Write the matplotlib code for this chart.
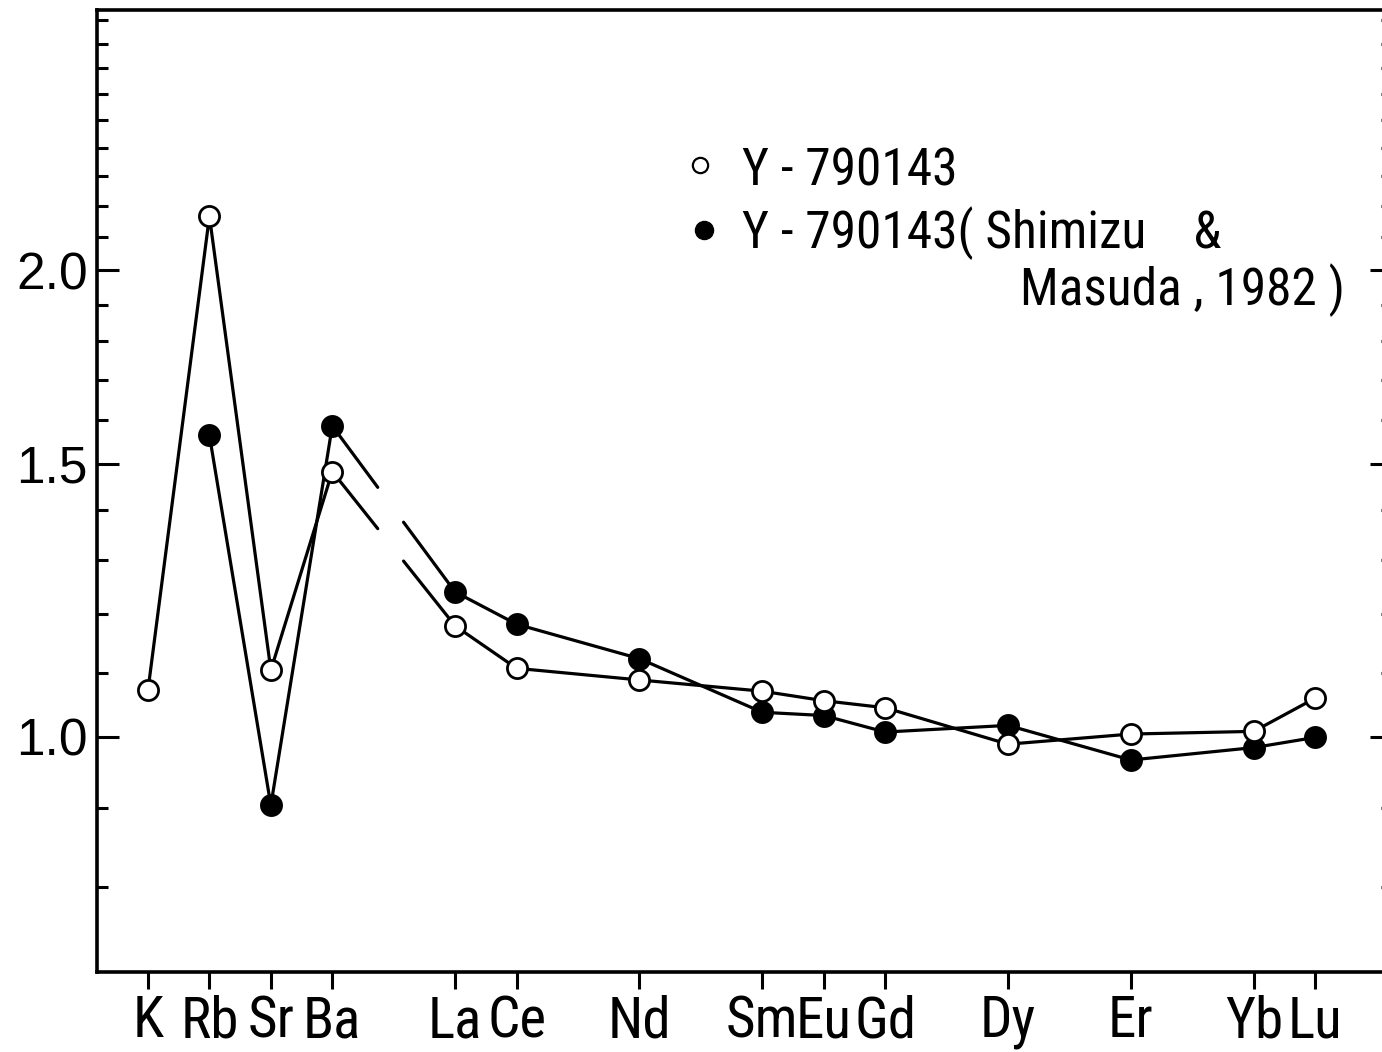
import matplotlib
matplotlib.use("Agg")

import matplotlib.pyplot as plt
import numpy as np
from matplotlib import font_manager
from matplotlib.font_manager import FontProperties
from matplotlib.ticker import FixedLocator, NullFormatter

# Normalised abundances (sample / reference), element order as plotted
elements = ["K", "Rb", "Sr", "Ba", "La", "Ce", "Nd", "Sm", "Eu", "Gd", "Dy", "Er", "Yb", "Lu"]
positions = [52, 53, 54, 55, 57, 58, 60, 62, 63, 64, 66, 68, 70, 71]

this_work = [1.072, 2.167, 1.104, 1.483, 1.179, 1.107, 1.088,
             1.070, 1.055, 1.044, 0.989, 1.004, 1.008, 1.059]
shimizu_masuda = [np.nan, 1.565, 0.903, 1.587, 1.240, 1.182, 1.123,
                  1.037, 1.032, 1.007, 1.017, 0.966, 0.984, 0.999]

major_ticks = [1.0, 1.5, 2.0]
major_labels = ["1.0", "1.5", "2.0"]

LW = 2.3


def condensed_font():
    """Return a narrow sans-serif face if one is installed, else None."""
    wanted = ("DejaVu Sans Condensed", "Liberation Sans Narrow", "Roboto Condensed",
              "Open Sans Condensed", "Noto Sans Condensed", "Noto Sans")
    squeezed = ("condensed", "semi-condensed", "extra-condensed")
    found = {}
    for f in font_manager.fontManager.ttflist:
        if f.style != "normal" or f.weight not in (400, "normal", "regular", "book"):
            continue
        narrow = ("Condensed" in f.name or "Narrow" in f.name
                  or str(f.stretch) in squeezed)
        if not narrow:
            continue
        for name in wanted:
            if f.name == name or f.name.startswith(name):
                found.setdefault(name, f.fname)
    for name in wanted:
        if name in found:
            return FontProperties(fname=found[name])
    return None


narrow_prop = condensed_font()
if narrow_prop is None:
    narrow_prop = FontProperties(family="Liberation Sans")
    label_size, legend_size, label_pad = 31, 32, 6
else:
    label_size, legend_size, label_pad = 41, 37, 4


def draw_series(ax, x, y, face, zorder):
    x = np.asarray(x, dtype=float)
    y = np.asarray(y, dtype=float)
    split = 4  # alkali/alkaline-earth group | REE group

    for sl in (slice(0, split), slice(split, None)):
        ax.plot(x[sl], y[sl], color="black", lw=LW, zorder=2)

    # Ba -> La link, drawn with a break in the middle
    xb, xl = x[split - 1], x[split]
    lb, ll = np.log10(y[split - 1]), np.log10(y[split])
    for t0, t1 in ((0.0, 0.37), (0.58, 1.0)):
        xs = [xb + t0 * (xl - xb), xb + t1 * (xl - xb)]
        ys = [10 ** (lb + t0 * (ll - lb)), 10 ** (lb + t1 * (ll - lb))]
        ax.plot(xs, ys, color="black", lw=LW, solid_capstyle="round", zorder=2)

    ax.plot(x, y, ls="none", marker="o", ms=14.5, mew=2.0,
            mfc=face, mec="black", zorder=zorder)


fig = plt.figure(figsize=(13.82, 10.52), dpi=100)
# right spine sits just past the figure edge
ax = fig.add_axes([97 / 1382, 80 / 1052, 1295 / 1382, 962 / 1052])

draw_series(ax, positions, shimizu_masuda, "black", 3)
draw_series(ax, positions, this_work, "white", 4)

ax.set_yscale("log")
ax.set_ylim(0.705, 2.944)
ax.set_xlim(51.17, 72.25)

ax.yaxis.set_major_locator(FixedLocator(major_ticks))
ax.yaxis.set_minor_locator(FixedLocator([v / 10 for v in range(8, 30) if v not in (10, 15, 20)]))
ax.yaxis.set_minor_formatter(NullFormatter())
ax.set_yticklabels(major_labels, fontsize=37, family="Liberation Sans")

ax.set_xticks(positions)
ax.set_xticklabels(elements)
for lab in ax.get_xticklabels():
    lab.set_fontproperties(narrow_prop)
    lab.set_fontsize(label_size)

ax.tick_params(axis="y", which="major", direction="in", length=16, width=2.2,
               right=True, pad=6.5)
ax.tick_params(axis="y", which="minor", direction="in", length=8, width=2.2, right=True)
ax.tick_params(axis="x", which="major", direction="out", length=12, width=2.2,
               pad=label_pad)

for side in ("left", "bottom", "top", "right"):
    ax.spines[side].set_linewidth(2.6)

# legend, written out by hand
ax.plot([0.4656], [0.8389], ls="none", marker="o", ms=11, mew=1.6, mfc="white",
        mec="black", transform=ax.transAxes, clip_on=False)
ax.plot([0.4687], [0.7713], ls="none", marker="o", ms=13, mew=1.0, mfc="black",
        mec="black", transform=ax.transAxes, clip_on=False)
legend_lines = [
    (0.498, 0.818, "Y - 790143", "left"),
    (0.498, 0.7526, "Y - 790143( Shimizu    &", "left"),
    (0.9637, 0.6933, "Masuda , 1982 )", "right"),
]
for tx, ty, s, ha in legend_lines:
    ax.text(tx, ty, s, ha=ha, va="baseline", transform=ax.transAxes,
            fontproperties=narrow_prop, fontsize=legend_size)

fig.savefig("out.png", dpi=100, facecolor="white")
